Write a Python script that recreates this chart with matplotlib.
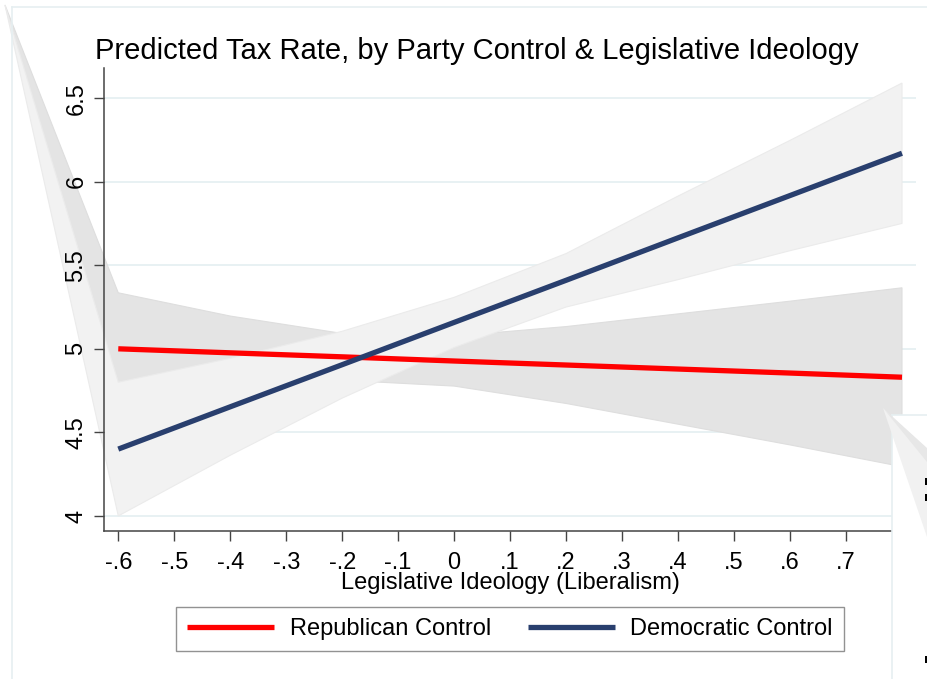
import numpy as np
import matplotlib
matplotlib.use("Agg")
import matplotlib.pyplot as plt
from matplotlib.patches import Polygon, Rectangle

plt.rcParams['font.family'] = ['Liberation Sans', 'DejaVu Sans']

""" Data (read off the picture) """
ideology = [-0.6, -0.4, -0.2, 0.0, 0.2, 0.4, 0.6, 0.8]
rep_pred = [5.000, 4.976, 4.952, 4.927, 4.903, 4.879, 4.855, 4.830]
rep_lo = [4.665, 4.756, 4.812, 4.777, 4.673, 4.549, 4.425, 4.295]
rep_hi = [5.335, 5.196, 5.092, 5.077, 5.133, 5.209, 5.285, 5.365]
dem_pred = [4.400, 4.653, 4.905, 5.158, 5.410, 5.664, 5.917, 6.170]
dem_lo = [4.000, 4.363, 4.705, 5.008, 5.250, 5.414, 5.587, 5.750]
dem_hi = [4.800, 4.943, 5.105, 5.308, 5.570, 5.914, 6.247, 6.590]

x_ticks = [-0.6, -0.5, -0.4, -0.3, -0.2, -0.1, 0.0, 0.1, 0.2, 0.3, 0.4, 0.5, 0.6, 0.7]
x_labels = ["-.6", "-.5", "-.4", "-.3", "-.2", "-.1", "0", ".1", ".2", ".3", ".4", ".5", ".6", ".7"]
y_ticks = [4, 4.5, 5, 5.5, 6, 6.5]
y_labels = ["4", "4.5", "5", "5.5", "6", "6.5"]

W, H = 927, 679


def fpx(x, y):
    # figure pixel (from top-left) -> figure fraction
    return (x / W, 1 - y / H)


fig = plt.figure(figsize=(W / 100, H / 100), dpi=100)
fig.patch.set_facecolor("white")

# outer frame of the graph region
fig.add_artist(plt.Line2D([12 / W, 12 / W], [0, 1 - 7 / H], transform=fig.transFigure,
                          color="#e6eff1", lw=1.2))
fig.add_artist(plt.Line2D([12 / W, 1], [1 - 7 / H, 1 - 7 / H], transform=fig.transFigure,
                          color="#e6eff1", lw=1.2))

left, right, bottom, top = 104, 916, 531, 68
ax = fig.add_axes([left / W, 1 - bottom / H, (right - left) / W, (bottom - top) / H])
ax.set_facecolor("none")
ax.set_axisbelow(False)   # tick labels sit above the stray band wedges
ax.set_xlim(-0.6255, 0.825)
ax.set_ylim(3.91, 6.68)

for s in ["top", "right"]:
    ax.spines[s].set_visible(False)
for s in ["left", "bottom"]:
    ax.spines[s].set_color("#444444")
    ax.spines[s].set_linewidth(1.1)

ax.set_yticks(y_ticks)
ax.set_yticklabels(y_labels, rotation=90, va="center", fontsize=17)
ax.set_xticks(x_ticks)
ax.set_xticklabels(x_labels, fontsize=17)
ax.tick_params(axis="both", length=7, width=1.0, color="#444444")
ax.tick_params(axis="y", pad=5)
ax.tick_params(axis="x", pad=8)
for yt in y_ticks:
    ax.axhline(yt, color="#e8f1f3", lw=1.4, zorder=0.5)
ax.set_xlabel("Legislative Ideology (Liberalism)", fontsize=17, labelpad=-1)

# confidence bands, with the stray corner vertex seen in the original export
fig.canvas.draw()
corner = ax.transData.inverted().transform(fig.transFigure.transform(fpx(5, 5)))


def band(lo, hi, color, edge, z):
    pts = [tuple(corner)] + list(zip(ideology, hi)) + list(zip(ideology[::-1], lo[::-1]))
    ax.add_patch(Polygon(pts, closed=True, facecolor=color, edgecolor=edge, lw=0.8,
                         clip_on=False, zorder=z))


band(rep_lo, rep_hi, "#e4e4e4", "#dedede", 1)
band(dem_lo, dem_hi, "#f2f2f2", "#ebebeb", 2)

rep_line, = ax.plot(ideology, rep_pred, color="#ff0000", lw=3.8, zorder=3,
                    solid_capstyle="butt", label="Republican Control")
dem_line, = ax.plot(ideology, dem_pred, color="#293f6e", lw=3.8, zorder=3,
                    solid_capstyle="butt", label="Democratic Control")

fig.text(95 / W, 1 - 51 / H, "Predicted Tax Rate, by Party Control & Legislative Ideology",
         fontsize=21, ha="left", va="center")

fig.legend(handles=[rep_line, dem_line], loc="center", bbox_to_anchor=fpx(510, 629),
           ncol=2, fontsize=17, frameon=True, fancybox=False, edgecolor="#777777",
           handlelength=3.7, handletextpad=0.65, columnspacing=1.55, borderpad=0.45)

# neighbouring image overlapping at the bottom right
fig.add_artist(Rectangle(fpx(892, 679), (W - 892) / W, (679 - 415) / H, transform=fig.transFigure,
                         facecolor="white", edgecolor="none", zorder=10))
fig.add_artist(plt.Line2D([892 / W, 892 / W], [0, 1 - 415 / H], transform=fig.transFigure,
                          color="#e6eff1", lw=1.2, zorder=11))
fig.add_artist(plt.Line2D([892 / W, 1], [1 - 415 / H, 1 - 415 / H], transform=fig.transFigure,
                          color="#e6eff1", lw=1.2, zorder=11))
fig.add_artist(Polygon([fpx(883, 408), fpx(927, 450), fpx(927, 537)], closed=True,
                       transform=fig.transFigure, facecolor="#f1f1f1", edgecolor="none", zorder=12))
fig.add_artist(Polygon([fpx(883, 408), fpx(927, 448), fpx(927, 462)], closed=True,
                       transform=fig.transFigure, facecolor="#e7e7e7", edgecolor="none", zorder=12))
for yy in [478, 494, 656]:
    fig.add_artist(Rectangle(fpx(925, yy + 7), 2 / W, 7 / H, transform=fig.transFigure,
                             facecolor="black", edgecolor="none", zorder=13))

fig.savefig("out.png", dpi=100)
